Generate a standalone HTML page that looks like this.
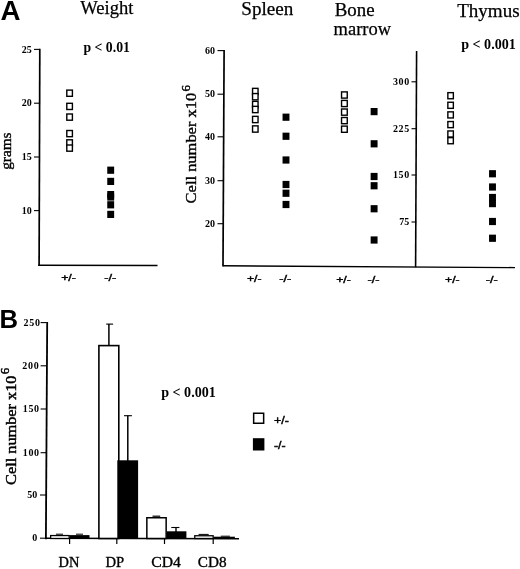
<!DOCTYPE html>
<html><head><meta charset="utf-8"><title>Figure</title>
<style>
html,body{margin:0;padding:0;background:#fff;}
body{width:520px;height:569px;overflow:hidden;}
svg{display:block;filter:blur(0.3px);}
text{fill:#000;}
.s{font-family:"Liberation Serif",serif;stroke:#000;stroke-width:0.25px;}
.s2{font-family:"Liberation Serif",serif;stroke:#000;stroke-width:0.38px;}
.s3{font-family:"Liberation Serif",serif;stroke:#000;stroke-width:0.35px;}
.sb{font-family:"Liberation Serif",serif;font-weight:bold;}
.sb2{font-family:"Liberation Serif",serif;stroke:#000;stroke-width:0.45px;}
.sn{font-family:"Liberation Serif",serif;font-weight:bold;}
.h{font-family:"Liberation Sans",sans-serif;stroke:#000;stroke-width:0.45px;}
.hb{font-family:"Liberation Sans",sans-serif;font-weight:bold;}
</style></head><body>
<svg width="520" height="569" viewBox="0 0 520 569">
<rect x="0" y="0" width="520" height="569" fill="#fff"/>
<text x="0.6" y="20.4" font-size="28" class="hb" text-anchor="start" textLength="20" lengthAdjust="spacingAndGlyphs">A</text>
<text x="-0.6" y="327.7" font-size="25.7" class="hb" text-anchor="start">B</text>
<text x="80.2" y="14.2" font-size="19" class="s" text-anchor="start" textLength="53.2" lengthAdjust="spacingAndGlyphs">Weight</text>
<text x="241.3" y="15.4" font-size="19" class="s" text-anchor="start" textLength="52" lengthAdjust="spacingAndGlyphs">Spleen</text>
<text x="334.8" y="16" font-size="19" class="s" text-anchor="start" textLength="39.8" lengthAdjust="spacingAndGlyphs">Bone</text>
<text x="333.6" y="35.1" font-size="19" class="s" text-anchor="start" textLength="57.5" lengthAdjust="spacingAndGlyphs">marrow</text>
<text x="457.2" y="16.6" font-size="19" class="s" text-anchor="start" textLength="62.4" lengthAdjust="spacingAndGlyphs">Thymus</text>
<text x="83.5" y="51.7" font-size="15.2" class="sb" text-anchor="start" textLength="46.4" lengthAdjust="spacingAndGlyphs">p &lt; 0.01</text>
<text x="461.2" y="49.4" font-size="15.3" class="sb" text-anchor="start" textLength="54.6" lengthAdjust="spacingAndGlyphs">p &lt; 0.001</text>
<text x="161.2" y="397.4" font-size="15.3" class="sb" text-anchor="start" textLength="54.6" lengthAdjust="spacingAndGlyphs">p &lt; 0.001</text>
<line x1="39.8" y1="48.8" x2="39.1" y2="265.9" stroke="#000" stroke-width="1.7"/>
<line x1="38.3" y1="265.2" x2="157.5" y2="265.5" stroke="#000" stroke-width="1.4"/>
<line x1="34" y1="49.4" x2="39.8" y2="49.4" stroke="#000" stroke-width="1.1"/>
<text x="31.7" y="52.5" font-size="10" class="sn" text-anchor="end">25</text>
<line x1="34" y1="103.2" x2="39.8" y2="103.2" stroke="#000" stroke-width="1.1"/>
<text x="31.7" y="106.3" font-size="10" class="sn" text-anchor="end">20</text>
<line x1="34" y1="157" x2="39.8" y2="157" stroke="#000" stroke-width="1.1"/>
<text x="31.7" y="160.1" font-size="10" class="sn" text-anchor="end">15</text>
<line x1="34" y1="210.6" x2="39.8" y2="210.6" stroke="#000" stroke-width="1.1"/>
<text x="31.7" y="213.7" font-size="10" class="sn" text-anchor="end">10</text>
<rect x="66.80" y="90.10" width="5.60" height="6.20" fill="#fff" stroke="#000" stroke-width="1.4"/>
<rect x="66.80" y="103.30" width="5.60" height="6.20" fill="#fff" stroke="#000" stroke-width="1.4"/>
<rect x="66.80" y="114.00" width="5.60" height="6.20" fill="#fff" stroke="#000" stroke-width="1.4"/>
<rect x="66.80" y="130.50" width="5.60" height="6.20" fill="#fff" stroke="#000" stroke-width="1.4"/>
<rect x="66.80" y="139.80" width="5.60" height="6.20" fill="#fff" stroke="#000" stroke-width="1.4"/>
<rect x="66.80" y="145.00" width="5.60" height="6.20" fill="#fff" stroke="#000" stroke-width="1.4"/>
<rect x="107.25" y="166.60" width="6.90" height="7.20" fill="#000"/>
<rect x="107.25" y="177.80" width="6.90" height="7.20" fill="#000"/>
<rect x="107.25" y="191.00" width="6.90" height="7.20" fill="#000"/>
<rect x="107.25" y="193.40" width="6.90" height="7.20" fill="#000"/>
<rect x="107.25" y="201.20" width="6.90" height="7.20" fill="#000"/>
<rect x="107.25" y="210.80" width="6.90" height="7.20" fill="#000"/>
<text x="61.2" y="281.2" font-size="9.8" class="h" text-anchor="start" textLength="14.6" lengthAdjust="spacingAndGlyphs">+/-</text>
<text x="104.2" y="281.2" font-size="9.8" class="h" text-anchor="start" textLength="12.0" lengthAdjust="spacingAndGlyphs">-/-</text>
<text transform="translate(11.3,169.8) rotate(-90)" font-size="15.5" class="s2" textLength="37.3" lengthAdjust="spacingAndGlyphs">grams</text>
<line x1="224.1" y1="50" x2="223" y2="266.4" stroke="#000" stroke-width="1.7"/>
<line x1="223.2" y1="265.8" x2="515" y2="267.6" stroke="#000" stroke-width="1.4"/>
<line x1="217.5" y1="50.6" x2="224" y2="50.6" stroke="#000" stroke-width="1.1"/>
<text x="215" y="53.7" font-size="10" class="sn" text-anchor="end">60</text>
<line x1="217.5" y1="94.2" x2="224" y2="94.2" stroke="#000" stroke-width="1.1"/>
<text x="215" y="97.3" font-size="10" class="sn" text-anchor="end">50</text>
<line x1="217.5" y1="136.8" x2="224" y2="136.8" stroke="#000" stroke-width="1.1"/>
<text x="215" y="139.9" font-size="10" class="sn" text-anchor="end">40</text>
<line x1="217.5" y1="180.7" x2="224" y2="180.7" stroke="#000" stroke-width="1.1"/>
<text x="215" y="183.79999999999998" font-size="10" class="sn" text-anchor="end">30</text>
<line x1="217.5" y1="223.7" x2="224" y2="223.7" stroke="#000" stroke-width="1.1"/>
<text x="215" y="226.79999999999998" font-size="10" class="sn" text-anchor="end">20</text>
<rect x="252.55" y="88.35" width="5.50" height="6.30" fill="#fff" stroke="#000" stroke-width="1.4"/>
<rect x="252.55" y="93.55" width="5.50" height="6.30" fill="#fff" stroke="#000" stroke-width="1.4"/>
<rect x="252.55" y="101.35" width="5.50" height="6.30" fill="#fff" stroke="#000" stroke-width="1.4"/>
<rect x="252.55" y="106.35" width="5.50" height="6.30" fill="#fff" stroke="#000" stroke-width="1.4"/>
<rect x="252.55" y="116.35" width="5.50" height="6.30" fill="#fff" stroke="#000" stroke-width="1.4"/>
<rect x="252.55" y="125.85" width="5.50" height="6.30" fill="#fff" stroke="#000" stroke-width="1.4"/>
<rect x="282.55" y="113.60" width="6.90" height="7.20" fill="#000"/>
<rect x="282.55" y="132.65" width="6.90" height="7.20" fill="#000"/>
<rect x="282.55" y="156.40" width="6.90" height="7.20" fill="#000"/>
<rect x="282.55" y="180.90" width="6.90" height="7.20" fill="#000"/>
<rect x="282.55" y="189.65" width="6.90" height="7.20" fill="#000"/>
<rect x="282.55" y="200.90" width="6.90" height="7.20" fill="#000"/>
<rect x="341.55" y="91.90" width="5.70" height="6.20" fill="#fff" stroke="#000" stroke-width="1.4"/>
<rect x="341.55" y="100.40" width="5.70" height="6.20" fill="#fff" stroke="#000" stroke-width="1.4"/>
<rect x="341.55" y="109.00" width="5.70" height="6.20" fill="#fff" stroke="#000" stroke-width="1.4"/>
<rect x="341.55" y="117.50" width="5.70" height="6.20" fill="#fff" stroke="#000" stroke-width="1.4"/>
<rect x="341.55" y="126.10" width="5.70" height="6.20" fill="#fff" stroke="#000" stroke-width="1.4"/>
<rect x="370.65" y="108.00" width="6.90" height="7.20" fill="#000"/>
<rect x="370.65" y="140.20" width="6.90" height="7.20" fill="#000"/>
<rect x="370.65" y="172.90" width="6.90" height="7.20" fill="#000"/>
<rect x="370.65" y="182.15" width="6.90" height="7.20" fill="#000"/>
<rect x="370.65" y="205.15" width="6.90" height="7.20" fill="#000"/>
<rect x="370.65" y="236.40" width="6.90" height="7.20" fill="#000"/>
<text x="246.9" y="282" font-size="9.8" class="h" text-anchor="start" textLength="14.6" lengthAdjust="spacingAndGlyphs">+/-</text>
<text x="279.3" y="282" font-size="9.8" class="h" text-anchor="start" textLength="12.0" lengthAdjust="spacingAndGlyphs">-/-</text>
<text x="336.2" y="282.5" font-size="9.8" class="h" text-anchor="start" textLength="14.6" lengthAdjust="spacingAndGlyphs">+/-</text>
<text x="367.6" y="282.5" font-size="9.8" class="h" text-anchor="start" textLength="12.0" lengthAdjust="spacingAndGlyphs">-/-</text>
<text transform="translate(195.6,203.4) rotate(-90)" font-size="15.6" class="s2" textLength="110.6" lengthAdjust="spacingAndGlyphs">Cell number x10</text>
<text transform="translate(190,91.6) rotate(-90)" font-size="13" class="s2">6</text>
<line x1="416.6" y1="51" x2="415.6" y2="267.3" stroke="#000" stroke-width="1.6"/>
<line x1="411.5" y1="81.8" x2="416.3" y2="81.8" stroke="#000" stroke-width="1.1"/>
<text x="410.0" y="84.89999999999999" font-size="10" class="sn" text-anchor="end" letter-spacing="0.7">300</text>
<line x1="411.5" y1="128.7" x2="416.3" y2="128.7" stroke="#000" stroke-width="1.1"/>
<text x="410.0" y="131.79999999999998" font-size="10" class="sn" text-anchor="end" letter-spacing="0.7">225</text>
<line x1="411.5" y1="175" x2="416.3" y2="175" stroke="#000" stroke-width="1.1"/>
<text x="410.0" y="178.1" font-size="10" class="sn" text-anchor="end" letter-spacing="0.7">150</text>
<line x1="411.5" y1="222" x2="416.3" y2="222" stroke="#000" stroke-width="1.1"/>
<text x="409.3" y="225.1" font-size="10" class="sn" text-anchor="end">75</text>
<rect x="447.85" y="92.65" width="5.50" height="6.10" fill="#fff" stroke="#000" stroke-width="1.4"/>
<rect x="447.85" y="102.25" width="5.50" height="6.10" fill="#fff" stroke="#000" stroke-width="1.4"/>
<rect x="447.85" y="111.85" width="5.50" height="6.10" fill="#fff" stroke="#000" stroke-width="1.4"/>
<rect x="447.85" y="121.55" width="5.50" height="6.10" fill="#fff" stroke="#000" stroke-width="1.4"/>
<rect x="447.85" y="130.95" width="5.50" height="6.10" fill="#fff" stroke="#000" stroke-width="1.4"/>
<rect x="447.85" y="137.65" width="5.50" height="6.10" fill="#fff" stroke="#000" stroke-width="1.4"/>
<rect x="489.05" y="170.15" width="6.90" height="7.20" fill="#000"/>
<rect x="489.05" y="183.40" width="6.90" height="7.20" fill="#000"/>
<rect x="489.05" y="193.90" width="6.90" height="7.20" fill="#000"/>
<rect x="489.05" y="200.00" width="6.90" height="7.20" fill="#000"/>
<rect x="489.05" y="217.90" width="6.90" height="7.20" fill="#000"/>
<rect x="489.05" y="234.65" width="6.90" height="7.20" fill="#000"/>
<text x="445" y="283" font-size="9.8" class="h" text-anchor="start" textLength="14.6" lengthAdjust="spacingAndGlyphs">+/-</text>
<text x="485.8" y="283" font-size="9.8" class="h" text-anchor="start" textLength="12.0" lengthAdjust="spacingAndGlyphs">-/-</text>
<line x1="47.2" y1="322" x2="45.9" y2="539.2" stroke="#000" stroke-width="1.8"/>
<line x1="45" y1="538.3" x2="239" y2="538.8" stroke="#000" stroke-width="1.5"/>
<line x1="40.6" y1="322.6" x2="46.8" y2="322.6" stroke="#000" stroke-width="1.1"/>
<text x="40.7" y="325.70000000000005" font-size="10" class="sn" text-anchor="end" letter-spacing="0.7">250</text>
<line x1="40.6" y1="365.8" x2="46.8" y2="365.8" stroke="#000" stroke-width="1.1"/>
<text x="39.4" y="368.90000000000003" font-size="10" class="sn" text-anchor="end" letter-spacing="0.7">200</text>
<line x1="40.6" y1="409" x2="46.8" y2="409" stroke="#000" stroke-width="1.1"/>
<text x="39.8" y="412.1" font-size="10" class="sn" text-anchor="end" letter-spacing="0.7">150</text>
<line x1="40.6" y1="452.7" x2="46.8" y2="452.7" stroke="#000" stroke-width="1.1"/>
<text x="39.8" y="455.8" font-size="10" class="sn" text-anchor="end" letter-spacing="0.7">100</text>
<line x1="40" y1="495" x2="46.8" y2="495" stroke="#000" stroke-width="1.1"/>
<text x="37.3" y="498.1" font-size="10" class="sn" text-anchor="end">50</text>
<line x1="40" y1="538.2" x2="46.8" y2="538.2" stroke="#000" stroke-width="1.1"/>
<text x="37.3" y="541.3000000000001" font-size="10" class="sn" text-anchor="end">0</text>
<rect x="50.65" y="535.55" width="18.50" height="2.95" fill="#fff" stroke="#000" stroke-width="1.3"/>
<rect x="69.50" y="535.10" width="20.00" height="3.90" fill="#000"/>
<line x1="56" y1="534.2" x2="63" y2="534.2" stroke="#000" stroke-width="1.0"/>
<line x1="76" y1="534.2" x2="83" y2="534.2" stroke="#000" stroke-width="1.0"/>
<line x1="108.9" y1="324" x2="108.9" y2="346" stroke="#000" stroke-width="1.5"/>
<line x1="106.2" y1="324.1" x2="113.1" y2="324.1" stroke="#000" stroke-width="1.1"/>
<rect x="98.90" y="345.60" width="19.90" height="192.90" fill="#fff" stroke="#000" stroke-width="1.6"/>
<line x1="127.8" y1="415.6" x2="127.8" y2="461" stroke="#000" stroke-width="1.5"/>
<line x1="124" y1="415.7" x2="131.9" y2="415.7" stroke="#000" stroke-width="1.1"/>
<rect x="117.30" y="460.30" width="20.80" height="78.70" fill="#000"/>
<line x1="152.5" y1="516.2" x2="160.2" y2="516.2" stroke="#000" stroke-width="1.2"/>
<rect x="146.85" y="517.75" width="19.30" height="20.75" fill="#fff" stroke="#000" stroke-width="1.5"/>
<line x1="176" y1="527.4" x2="176" y2="532" stroke="#000" stroke-width="1.4"/>
<line x1="171.3" y1="527.5" x2="179.4" y2="527.5" stroke="#000" stroke-width="1.1"/>
<rect x="166.50" y="531.30" width="19.90" height="7.70" fill="#000"/>
<rect x="194.75" y="535.75" width="18.40" height="2.75" fill="#fff" stroke="#000" stroke-width="1.3"/>
<line x1="198.6" y1="534.4" x2="208.7" y2="534.4" stroke="#000" stroke-width="1.0"/>
<rect x="213.50" y="536.70" width="21.40" height="2.30" fill="#000"/>
<line x1="220.8" y1="536.2" x2="229.9" y2="536.2" stroke="#000" stroke-width="1.0"/>
<line x1="69.6" y1="538.5" x2="69.6" y2="544" stroke="#000" stroke-width="1.2"/>
<line x1="116.8" y1="538.5" x2="116.8" y2="544" stroke="#000" stroke-width="1.2"/>
<line x1="164.5" y1="538.5" x2="164.5" y2="544" stroke="#000" stroke-width="1.2"/>
<line x1="213.2" y1="538.5" x2="213.2" y2="544" stroke="#000" stroke-width="1.2"/>
<text x="58.6" y="566.5" font-size="14.6" class="s3" text-anchor="start" textLength="20.8" lengthAdjust="spacingAndGlyphs">DN</text>
<text x="105.5" y="566.5" font-size="14.6" class="s3" text-anchor="start" textLength="18.7" lengthAdjust="spacingAndGlyphs">DP</text>
<text x="151.2" y="566.6" font-size="14.6" class="s3" text-anchor="start" textLength="29.6" lengthAdjust="spacingAndGlyphs">CD4</text>
<text x="197.8" y="566.6" font-size="14.6" class="s3" text-anchor="start" textLength="28.7" lengthAdjust="spacingAndGlyphs">CD8</text>
<text transform="translate(15.5,484.9) rotate(-90)" font-size="15.6" class="sb2" textLength="109.4" lengthAdjust="spacingAndGlyphs">Cell number x10</text>
<text transform="translate(9.4,374.3) rotate(-90)" font-size="13" class="sb2">6</text>
<rect x="253.65" y="413.25" width="10" height="10" fill="#fff" stroke="#000" stroke-width="1.5"/>
<rect x="252.9" y="438.2" width="11.5" height="12.3" fill="#000"/>
<text x="274" y="424.1" font-size="10.8" class="h" text-anchor="start" textLength="14.8" lengthAdjust="spacingAndGlyphs">+/-</text>
<text x="274" y="449.2" font-size="10.8" class="h" text-anchor="start" textLength="11.7" lengthAdjust="spacingAndGlyphs">-/-</text>
</svg>
</body></html>
